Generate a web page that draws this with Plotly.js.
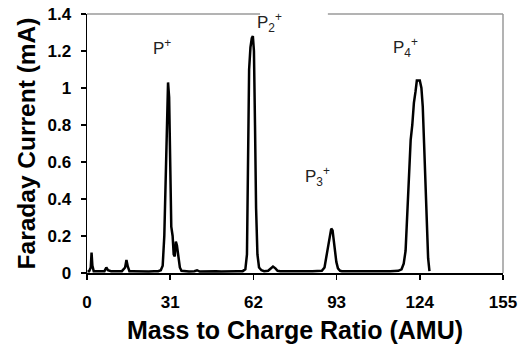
<!DOCTYPE html>
<html>
<head>
<meta charset="utf-8">
<script src="https://cdn.plot.ly/plotly-3.0.1.min.js"></script>
<style>html,body{margin:0;padding:0;background:#fff;}#chart{width:524px;height:349px;}</style>
</head>
<body>
<div id="chart"></div>
<script>
// Mass to charge ratio (AMU)
const massAMU = [0.2, 0.8, 1.4, 1.7, 2.0, 2.5, 3.5, 5, 6.5, 7.2, 7.8, 9, 11, 13, 14.2, 14.7, 15.2, 15.8, 17, 19, 21, 23, 25, 26.5, 27.5, 28.2, 28.8, 29.4, 29.9, 30.2, 30.6, 31.0, 31.4, 31.9, 32.3, 32.7, 33.1, 33.5, 34.0, 34.6, 35.2, 36, 38, 40, 41, 42, 44, 46, 48, 50, 52, 54, 56, 58, 59, 59.6, 60.0, 60.4, 60.9, 61.4, 61.8, 62.2, 62.6, 63.0, 63.5, 64.1, 65, 66, 67.5, 68.5, 69.3, 70.2, 71, 72, 74, 76, 78, 80, 82, 84, 86, 87.5, 88.5, 89.2, 89.8, 90.4, 91.0, 91.5, 91.9, 92.4, 92.9, 93.5, 94.3, 95, 97, 99, 101, 103, 105, 107, 109, 111, 113, 114.5, 116, 117.2, 118, 118.7, 119.3, 120.0, 120.6, 121.2, 121.8, 122.4, 122.9, 123.4, 124.0, 124.6, 125.1, 125.6, 126.1, 126.6, 127.1, 127.6];
// Faraday current (mA)
const currentMA = [0.01, 0.01, 0.03, 0.11, 0.04, 0.01, 0.01, 0.01, 0.01, 0.03, 0.015, 0.01, 0.008, 0.01, 0.03, 0.07, 0.035, 0.01, 0.01, 0.008, 0.01, 0.008, 0.01, 0.01, 0.015, 0.04, 0.2, 0.6, 0.95, 1.03, 0.95, 0.5, 0.25, 0.2, 0.1, 0.09, 0.17, 0.15, 0.08, 0.03, 0.012, 0.01, 0.008, 0.01, 0.015, 0.008, 0.01, 0.009, 0.01, 0.008, 0.01, 0.009, 0.01, 0.01, 0.02, 0.1, 0.5, 1.1, 1.22, 1.27, 1.28, 1.2, 0.8, 0.35, 0.1, 0.03, 0.015, 0.01, 0.012, 0.025, 0.035, 0.025, 0.012, 0.01, 0.009, 0.01, 0.008, 0.01, 0.009, 0.01, 0.009, 0.012, 0.03, 0.08, 0.14, 0.19, 0.24, 0.23, 0.18, 0.12, 0.06, 0.025, 0.012, 0.01, 0.009, 0.01, 0.008, 0.01, 0.009, 0.01, 0.008, 0.01, 0.009, 0.01, 0.012, 0.02, 0.05, 0.12, 0.3, 0.55, 0.72, 0.8, 0.92, 0.98, 1.04, 1.04, 1.04, 1.0, 0.9, 0.7, 0.5, 0.28, 0.08, 0.01];

const xTicks = [0, 31, 62, 93, 124, 155];
const yTicks = [0, 0.2, 0.4, 0.6, 0.8, 1, 1.2, 1.4];
const yTickText = ['0', '0.2', '0.4', '0.6', '0.8', '1', '1.2', '1.4'];

const peakLabels = ['P<sup>+</sup>', 'P<sub>2</sub><sup>+</sup>', 'P<sub>3</sub><sup>+</sup>', 'P<sub>4</sub><sup>+</sup>'];
const peakLabelX = [28, 68, 86, 118.5];
const peakLabelY = [1.22, 1.355, 0.52, 1.22];

const fontFam = 'Liberation Sans, Arial, sans-serif';

const trace = {
  x: massAMU, y: currentMA, type: 'scatter', mode: 'lines',
  line: {color: '#000', width: 2.5}, hoverinfo: 'skip'
};

const layout = {
  width: 524, height: 349,
  margin: {l: 87, r: 21, t: 14, b: 76},
  paper_bgcolor: '#fff', plot_bgcolor: '#fff',
  showlegend: false,
  font: {family: fontFam, color: '#000'},
  xaxis: {
    range: [0, 155], tickvals: xTicks, ticktext: xTicks.map(String),
    showgrid: false, zeroline: false, showline: true, linecolor: '#000', linewidth: 1.5,
    ticks: 'outside', ticklen: 5, tickcolor: '#000', tickwidth: 1.5,
    ticklabelstandoff: 8,
    tickfont: {family: fontFam, size: 17, weight: 'bold', color: '#000'},
    title: {text: 'Mass to Charge Ratio (AMU)', font: {family: fontFam, size: 25, weight: 'bold', color: '#000'}, standoff: 10}
  },
  yaxis: {
    range: [0, 1.4], tickvals: yTicks, ticktext: yTickText,
    showgrid: false, zeroline: false, showline: true, linecolor: '#000', linewidth: 1.5,
    ticks: 'outside', ticklen: 5, tickcolor: '#000', tickwidth: 1.5,
    ticklabelstandoff: 6,
    tickfont: {family: fontFam, size: 17, weight: 'bold', color: '#000'},
    title: {text: 'Faraday Current (mA)', font: {family: fontFam, size: 24.5, weight: 'bold', color: '#000'}, standoff: 5}
  },
  shapes: [
    {type: 'line', xref: 'paper', yref: 'paper', x0: 0, x1: 0.416, y0: 1, y1: 1, line: {color: '#9a9a9a', width: 1.5}},
    {type: 'line', xref: 'paper', yref: 'paper', x0: 0.579, x1: 1, y0: 1, y1: 1, line: {color: '#9a9a9a', width: 1.5}},
    {type: 'line', xref: 'paper', yref: 'paper', x0: 1, x1: 1, y0: 0, y1: 1, line: {color: '#9a9a9a', width: 1.5}}
  ],
  annotations: peakLabels.map((t, i) => ({
    text: t, x: peakLabelX[i], y: peakLabelY[i], xref: 'x', yref: 'y',
    showarrow: false, font: {family: fontFam, size: 17, color: '#222'}
  }))
};

Plotly.newPlot('chart', [trace], layout, {staticPlot: true, displayModeBar: false});
</script>
</body>
</html>
